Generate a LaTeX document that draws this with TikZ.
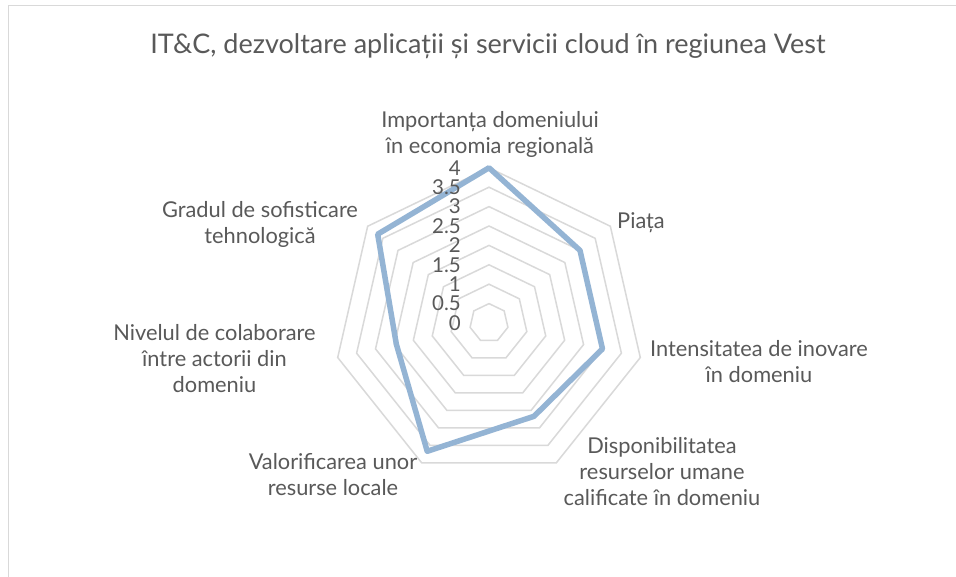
\documentclass[tikz,border=0pt]{standalone}
\usepackage{fontspec}
\setmainfont{Lato}
\definecolor{labelgray}{HTML}{595959}
\definecolor{gridgray}{HTML}{D9D9D9}
\definecolor{bordergray}{HTML}{D9D9D9}
\definecolor{seriesblue}{HTML}{94B4D4}
\begin{document}
\begin{tikzpicture}[x=1pt,y=-1pt,
  lbl/.style={text=labelgray, font=\fontsize{21.8}{26}\selectfont, align=center, inner sep=0pt},
  ticklbl/.style={text=labelgray, font=\fontsize{20.5}{20}\selectfont, inner sep=0pt, anchor=east},
  titlelbl/.style={text=labelgray, font=\fontsize{27}{30}\selectfont, inner sep=0pt},
  gridline/.style={draw=gridgray, line width=1.5pt, line join=miter},
  seriesline/.style={draw=seriesblue, line width=5.5pt, line join=round}]
\useasboundingbox (0,0) rectangle (956,577);
\fill[white] (0,0) rectangle (956,577);
\draw[bordergray, line width=1.5pt] (8.5,577) -- (8.5,5.5) -- (956,5.5);

\node[titlelbl] (title) at (488,46) {IT\&C, dezvoltare aplicații și servicii cloud în regiunea Vest};

\begin{scope}[shift={(489,323)}]
  \foreach \l in {1,...,8} {
    \draw[gridline] (90:\l*19.4pt) \foreach \k in {1,...,6} { -- ({90-\k*360/7}:\l*19.4pt) } -- cycle;
  }
  \draw[seriesline] (90:4*38.8pt) -- ({90-360/7}:3*38.8pt) -- ({90-2*360/7}:3*38.8pt)
    -- ({90-3*360/7}:2.67*38.8pt) -- ({90-4*360/7}:3.67*38.8pt) -- ({90-5*360/7}:2.45*38.8pt)
    -- ({90-6*360/7}:3.67*38.8pt) -- cycle;
\end{scope}

\node[ticklbl] (t0) at (461,323) {0};
\node[ticklbl] (t05) at (461,303.6) {0.5};
\node[ticklbl] (t1) at (461,284.2) {1};
\node[ticklbl] (t15) at (461,264.8) {1.5};
\node[ticklbl] (t2) at (461,245.4) {2};
\node[ticklbl] (t25) at (461,226) {2.5};
\node[ticklbl] (t3) at (461,206.6) {3};
\node[ticklbl] (t35) at (461,187.2) {3.5};
\node[ticklbl] (t4) at (461,167.8) {4};

\node[lbl] (a0) at (490,134) {Importanța domeniului\\în economia regională};
\node[lbl] (a1) at (641,223) {Piața};
\node[lbl] (a2) at (759,362) {Intensitatea de inovare\\în domeniu};
\node[lbl] (a3) at (662,472) {Disponibilitatea\\resurselor umane\\calificate în domeniu};
\node[lbl] (a4) at (333,474.5) {Valorificarea unor\\resurse locale};
\node[lbl] (a5) at (214.5,359) {Nivelul de colaborare\\între actorii din\\domeniu};
\node[lbl] (a6) at (260,224) {Gradul de sofisticare\\tehnologică};
\end{tikzpicture}
\end{document}
